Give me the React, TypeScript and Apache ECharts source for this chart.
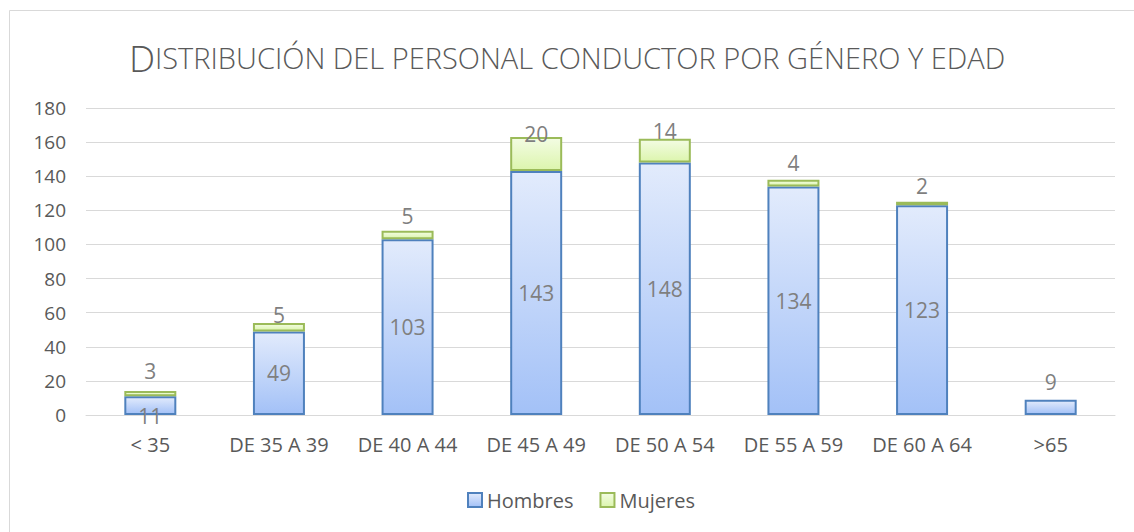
import React, { useEffect, useRef } from "react";
import * as echarts from "echarts";

const categories = ["< 35", "DE 35 A 39", "DE 40 A 44", "DE 45 A 49", "DE 50 A 54", "DE 55 A 59", "DE 60 A 64", ">65"];
const hombres = [11, 49, 103, 143, 148, 134, 123, 9];
const mujeres = [3, 5, 5, 20, 14, 4, 2, 0];
const yTicks = { min: 0, max: 180, interval: 20 };
const titleFirst = "D";
const titleRest = "ISTRIBUCIÓN DEL PERSONAL CONDUCTOR POR GÉNERO Y EDAD";

// layout only: gap (px) between the top of each stack and its "Mujeres" label
const mujeresLabelGap = [9.5, -2.5, 4.5, -7.5, -2.5, 6.5, 5.5, 0];

const FONT = "'Open Sans', 'Noto Sans', sans-serif";
const GRAY = "#595959";
const LABEL = "#7f7f7f";

export default function App() {
  const ref = useRef<HTMLDivElement>(null);
  useEffect(() => {
    if (!ref.current) return;
    const chart = echarts.init(ref.current, undefined, { renderer: "svg" });
    const blueFill = new echarts.graphic.LinearGradient(0, 0, 0, 1, [
      { offset: 0, color: "#e2ebfc" },
      { offset: 1, color: "#a3c1f7" },
    ]);
    const greenFill = new echarts.graphic.LinearGradient(0, 0, 0, 1, [
      { offset: 0, color: "#f3fce3" },
      { offset: 1, color: "#dcf5ad" },
    ]);
    const last = hombres.length - 1;
    chart.setOption({
      animation: false,
      textStyle: { fontFamily: FONT },
      graphic: [
        {
          type: "rect",
          shape: { x: 9.5, y: 10.5, width: 1135, height: 535 },
          style: { fill: "none", stroke: "#d9d9d9", lineWidth: 1 },
          silent: true,
        },
      ],
      title: {
        text: `{a|${titleFirst}}{b|${titleRest}}`,
        left: "center",
        top: 34,
        textStyle: {
          rich: {
            a: { fontSize: 37, color: GRAY, fontFamily: FONT, fontWeight: 300 },
            b: { fontSize: 29, color: GRAY, fontFamily: FONT, fontWeight: 300 },
          },
        },
      },
      grid: { left: 86, right: 19, top: 108, bottom: 117, containLabel: false },
      legend: {
        bottom: 17,
        left: 462,
        itemWidth: 14,
        itemHeight: 14,
        itemGap: 26,
        icon: "rect",
        textStyle: { fontSize: 20, color: GRAY, fontFamily: FONT },
        data: ["Hombres", "Mujeres"],
      },
      xAxis: {
        type: "category",
        data: categories,
        axisLine: { lineStyle: { color: "#d9d9d9", width: 1 } },
        axisTick: { show: false },
        axisLabel: { fontSize: 20, color: GRAY, margin: 19, fontFamily: FONT, interval: 0 },
      },
      yAxis: {
        type: "value",
        min: yTicks.min,
        max: yTicks.max,
        interval: yTicks.interval,
        axisLine: { show: false },
        axisTick: { show: false },
        axisLabel: { fontSize: 19, color: GRAY, margin: 20, fontFamily: FONT },
        splitLine: { lineStyle: { color: "#d9d9d9", width: 1 } },
      },
      series: [
        {
          name: "Hombres",
          type: "bar",
          stack: "total",
          barWidth: 52,
          data: hombres.map((v, i) => {
            if (i === last) return { value: v, label: { position: "top", distance: 7.5 } };
            if (i === 0) return { value: v, label: { offset: [0, 10] } };
            return v;
          }),
          itemStyle: { color: blueFill, borderColor: "#4f81bd", borderWidth: 2 },
          label: {
            show: true,
            position: "inside",
            fontSize: 21,
            color: LABEL,
            fontFamily: FONT,
          },
        },
        {
          name: "Mujeres",
          type: "bar",
          stack: "total",
          barWidth: 52,
          data: mujeres.map((v, i) =>
            v === 0 ? null : { value: v, label: { distance: mujeresLabelGap[i] } }
          ),
          itemStyle: { color: greenFill, borderColor: "#9bbb59", borderWidth: 2 },
          label: {
            show: true,
            position: "top",
            fontSize: 21,
            color: LABEL,
            fontFamily: FONT,
          },
        },
      ],
    });
    return () => chart.dispose();
  }, []);
  return (
    <div
      ref={ref}
      style={{ position: "fixed", left: 0, top: 0, width: 1134, height: 532, background: "#fff" }}
    />
  );
}
